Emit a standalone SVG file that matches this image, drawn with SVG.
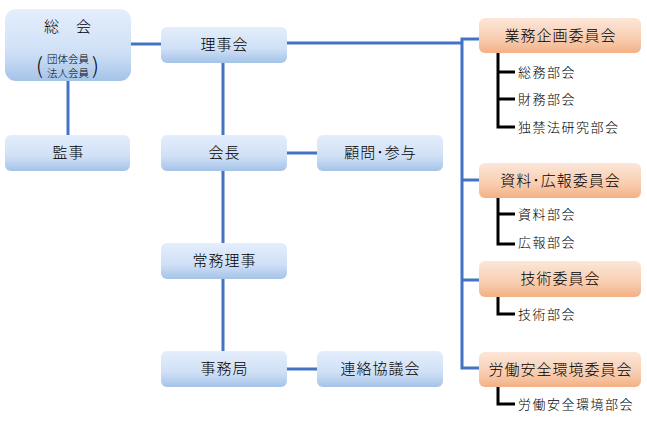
<svg xmlns="http://www.w3.org/2000/svg" width="647" height="424" viewBox="0 0 647 424">
<defs>
<linearGradient id="gb" x1="0" y1="0" x2="0" y2="1">
<stop offset="0" stop-color="#e4eefc"/>
<stop offset="0.6" stop-color="#cfe0f6"/>
<stop offset="1" stop-color="#a5c3e8"/>
</linearGradient>
<linearGradient id="go" x1="0" y1="0" x2="0" y2="1">
<stop offset="0" stop-color="#fce6d8"/>
<stop offset="0.6" stop-color="#f8cdb0"/>
<stop offset="1" stop-color="#f3b084"/>
</linearGradient>
</defs>
<style>
.b{fill:url(#gb);}
.o{fill:url(#go);}
.t{font-family:"Noto Sans CJK JP","Noto Sans CJK SC",sans-serif;font-size:15px;font-weight:300;letter-spacing:1px;fill:#000;text-anchor:middle;}
.s{font-family:"Noto Sans CJK JP","Noto Sans CJK SC",sans-serif;font-size:13px;font-weight:300;letter-spacing:1.5px;fill:#000;}
.m{font-family:"Noto Sans CJK JP","Noto Sans CJK SC",sans-serif;font-size:10.5px;font-weight:300;fill:#000;text-anchor:middle;}
.bl{stroke:#4472c4;stroke-width:3;fill:none;}
.k{stroke:#000;stroke-width:3;fill:none;}
</style>
<rect width="647" height="424" fill="#fff"/>
<g id="connectors">
<path class="bl" d="M131 44H161"/>
<path class="bl" d="M68 81V135"/>
<path class="bl" d="M223 63V135M223 171V243M223 279V351"/>
<path class="bl" d="M287 153H317M287 369H317"/>
<path class="bl" d="M287 43H462V39H479M462 39V368H479M462 180H479M462 280H479"/>
<path class="k" d="M498 53V127H515M498 72H515M498 99H515"/>
<path class="k" d="M498 198V244H515M498 214H515"/>
<path class="k" d="M498 297V314H515"/>
<path class="k" d="M498 387V404H515"/>
</g>
<g id="soukai">
<rect class="b" x="5" y="9" width="126" height="72" rx="11"/>
<text class="t" x="68" y="32">総　会</text>
<text class="m" x="68" y="63">団体会員</text>
<text class="m" x="68" y="77">法人会員</text>
<text class="t" x="40" y="74" style="font-size:22px">(</text>
<text class="t" x="96" y="74" style="font-size:22px">)</text>
</g>
<g id="rijikai"><rect class="b" x="161" y="27" width="126" height="36" rx="6"/><text class="t" x="224.5" y="50">理事会</text></g>
<g id="kanji"><rect class="b" x="5" y="135" width="125" height="36" rx="6"/><text class="t" x="68.5" y="158">監事</text></g>
<g id="kaicho"><rect class="b" x="161" y="135" width="126" height="36" rx="6"/><text class="t" x="224.5" y="158">会長</text></g>
<g id="komon"><rect class="b" x="317" y="135" width="126" height="36" rx="6"/><text class="t" x="380.5" y="158">顧問･参与</text></g>
<g id="jomu"><rect class="b" x="161" y="243" width="126" height="36" rx="6"/><text class="t" x="224.5" y="266">常務理事</text></g>
<g id="jimukyoku"><rect class="b" x="161" y="351" width="126" height="36" rx="6"/><text class="t" x="224.5" y="374">事務局</text></g>
<g id="renraku"><rect class="b" x="317" y="351" width="126" height="36" rx="6"/><text class="t" x="380.5" y="374">連絡協議会</text></g>
<g id="gyomu"><rect class="o" x="479" y="18" width="162" height="35" rx="6"/><text class="t" x="560.5" y="41">業務企画委員会</text></g>
<g id="shiryo"><rect class="o" x="479" y="163" width="162" height="35" rx="6"/><text class="t" x="560.5" y="186">資料･広報委員会</text></g>
<g id="gijutsu"><rect class="o" x="479" y="261" width="162" height="36" rx="6"/><text class="t" x="560.5" y="284">技術委員会</text></g>
<g id="rodo"><rect class="o" x="479" y="352" width="162" height="35" rx="6"/><text class="t" x="560.5" y="375">労働安全環境委員会</text></g>
<g id="sub1"><text class="s" x="518" y="77">総務部会</text></g>
<g id="sub2"><text class="s" x="518" y="104">財務部会</text></g>
<g id="sub3"><text class="s" x="518" y="132">独禁法研究部会</text></g>
<g id="sub4"><text class="s" x="518" y="219">資料部会</text></g>
<g id="sub5"><text class="s" x="518" y="247">広報部会</text></g>
<g id="sub6"><text class="s" x="518" y="319">技術部会</text></g>
<g id="sub7"><text class="s" x="518" y="409">労働安全環境部会</text></g>
</svg>
